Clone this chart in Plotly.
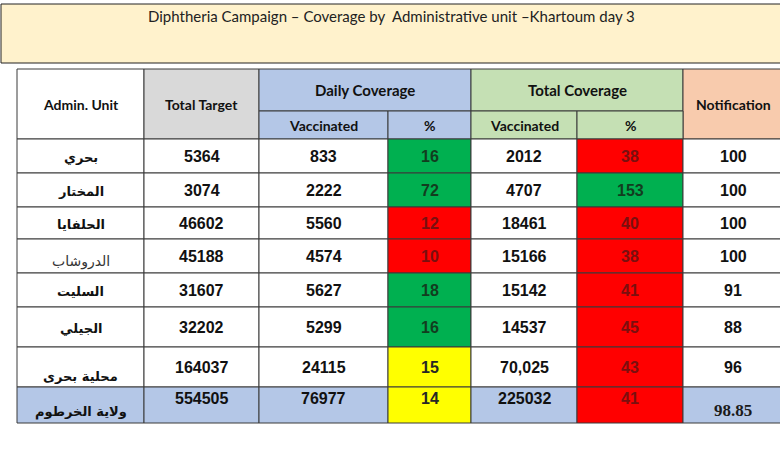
import plotly.graph_objects as go

# --- data ---
title = "Diphtheria Campaign – Coverage by  Administrative unit –Khartoum day 3"
units = ["بحري", "المختار", "الحلفايا", "الدروشاب", "السليت", "الجيلي", "محلية بحرى", "ولاية الخرطوم"]
total_target = [5364, 3074, 46602, 45188, 31607, 32202, 164037, 554505]
daily_vacc = [833, 2222, 5560, 4574, 5627, 5299, 24115, 76977]
daily_pct = [16, 72, 12, 10, 18, 16, 15, 14]
total_vacc = ["2012", "4707", "18461", "15166", "15142", "14537", "70,025", "225032"]
total_pct = [38, 153, 40, 38, 41, 45, 43, 41]
notification = ["100", "100", "100", "100", "91", "88", "96", "98.85"]

# --- layout geometry (page pixels) ---
col_x = [17, 144, 259, 388, 471, 577, 683, 783]
head_y = [69, 111, 139]
row_y = [139, 173, 207, 239, 273, 307, 347, 387, 423]

GREEN, RED, YELLOW = "#00B050", "#FF0000", "#FFFF00"
BLUE, LGREEN, GREY, PEACH = "#B4C7E7", "#C5E0B4", "#D9D9D9", "#F8CBAD"
LINE = "#3a3a3a"


def pct_style(v, green_min, yellow_min):
    if v >= green_min:
        return GREEN, "#123d1f"
    if v >= yellow_min:
        return YELLOW, "#262626"
    return RED, "#7a0f0f"


shapes = []
annotations = []


def cell(x0, x1, y0, y1, fill):
    shapes.append(dict(type="rect", xref="x", yref="y", x0=x0, x1=x1, y0=y0, y1=y1,
                       fillcolor=fill, line=dict(color=LINE, width=1), layer="below"))


def text(x, y, s, size=16, color="#111", family="Liberation Sans, DejaVu Sans",
         weight="bold", yanchor="middle"):
    annotations.append(dict(x=x, y=y, xref="x", yref="y", text=s, showarrow=False,
                            xanchor="center", yanchor=yanchor,
                            font=dict(size=size, color=color, family=family, weight=weight)))


# title box
shapes.append(dict(type="rect", xref="x", yref="y", x0=1, x1=784, y0=4, y1=63,
                   fillcolor="#FFF2CC", line=dict(color="#222", width=1), layer="below"))
text(391, 16, title, size=15, color="#222", family="Lato", weight="normal")

# header
hf = "Lato"
cell(col_x[0], col_x[1], head_y[0], head_y[2], "white")
text((col_x[0] + col_x[1]) / 2, 104, "Admin. Unit", size=14, family=hf)
cell(col_x[1], col_x[2], head_y[0], head_y[2], GREY)
text((col_x[1] + col_x[2]) / 2, 104, "Total Target", size=14, family=hf)
cell(col_x[2], col_x[4], head_y[0], head_y[1], BLUE)
text((col_x[2] + col_x[4]) / 2, 90, "Daily Coverage", size=15, family=hf)
cell(col_x[4], col_x[6], head_y[0], head_y[1], LGREEN)
text((col_x[4] + col_x[6]) / 2, 90, "Total Coverage", size=15, family=hf)
cell(col_x[6], col_x[7], head_y[0], head_y[2], PEACH)
text(733, 104, "Notification", size=14, family=hf)
for c, lab, fill in [(2, "Vaccinated", BLUE), (3, "%", BLUE), (4, "Vaccinated", LGREEN), (5, "%", LGREEN)]:
    cell(col_x[c], col_x[c + 1], head_y[1], head_y[2], fill)
    text((col_x[c] + col_x[c + 1]) / 2, 125, lab, size=14, family=hf)

# body
n = len(units)
for r in range(n):
    y0, y1 = row_y[r], row_y[r + 1]
    ym = (y0 + y1) / 2
    last = r == n - 1
    base = BLUE if last else "white"
    dfill, dcol = pct_style(daily_pct[r], 16, 13)
    tfill, tcol = pct_style(total_pct[r], 100, 60)
    fills = [base, base, base, dfill, base, tfill, base]
    for c in range(7):
        cell(col_x[c], col_x[c + 1], y0, y1, fills[c])
    cx = [(col_x[c] + col_x[c + 1]) / 2 for c in range(7)]
    ny = ym - 7 if last else ym
    # admin unit name
    if r == 3:
        text(cx[0], y1 - 1, units[r], size=14, weight="normal", color="#333", yanchor="bottom",
             family="DejaVu Sans")
    elif r >= n - 2:
        text(cx[0], y1 - 1, units[r], size=13, yanchor="bottom", family="DejaVu Sans")
    else:
        text(cx[0], ym + 1, units[r], size=13, family="DejaVu Sans")
    text(cx[1], ny, str(total_target[r]))
    text(cx[2], ny, str(daily_vacc[r]))
    text(cx[3], ny, str(daily_pct[r]), color=dcol)
    text(cx[4], ny, total_vacc[r])
    text(cx[5], ny, str(total_pct[r]), color=tcol)
    if last:
        text(cx[6], y1 - 1, notification[r], size=17, family="Liberation Serif", yanchor="bottom",
             color="#1a1a1a")
    else:
        text(cx[6], ny, notification[r])

fig = go.Figure()
fig.update_layout(
    width=780, height=450,
    margin=dict(l=0, r=0, t=0, b=0),
    paper_bgcolor="white", plot_bgcolor="white",
    xaxis=dict(range=[0, 780], visible=False, fixedrange=True),
    yaxis=dict(range=[450, 0], visible=False, fixedrange=True),
    shapes=shapes, annotations=annotations, showlegend=False,
)
# drop the default page margin so the figure fills the window
fig.write_html("out.html", config={"displayModeBar": False},
               post_script="document.body.style.margin='0';")
